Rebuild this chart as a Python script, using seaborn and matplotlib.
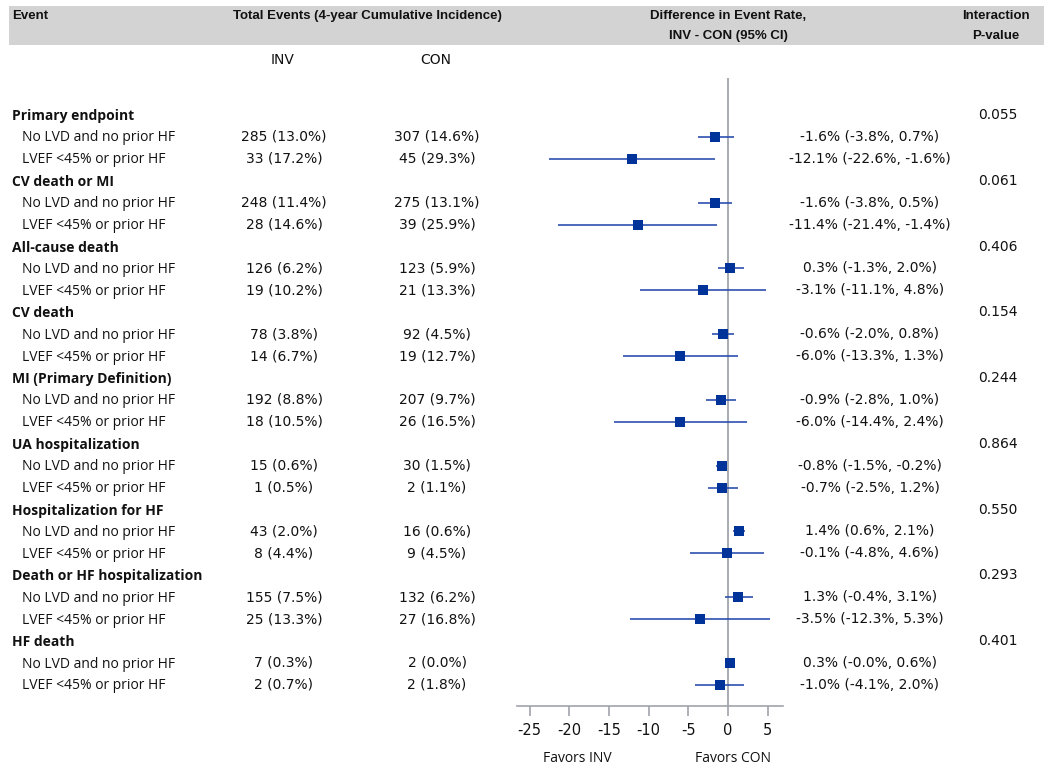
import matplotlib
matplotlib.use("Agg")
import matplotlib.pyplot as plt
import seaborn as sns
import pandas as pd
from matplotlib.patches import Rectangle

sns.set_theme(style="white")

# ---------------- data ----------------
groups = ["Primary endpoint", "CV death or MI", "All-cause death", "CV death",
          "MI (Primary Definition)", "UA hospitalization", "Hospitalization for HF",
          "Death or HF hospitalization", "HF death"]
subgroups = ["No LVD and no prior HF", "LVEF <45% or prior HF"]
p_values = ["0.055", "0.061", "0.406", "0.154", "0.244", "0.864", "0.550", "0.293", "0.401"]

inv_events = ["285 (13.0%)", "33 (17.2%)", "248 (11.4%)", "28 (14.6%)",
              "126 (6.2%)", "19 (10.2%)", "78 (3.8%)", "14 (6.7%)",
              "192 (8.8%)", "18 (10.5%)", "15 (0.6%)", "1 (0.5%)",
              "43 (2.0%)", "8 (4.4%)", "155 (7.5%)", "25 (13.3%)",
              "7 (0.3%)", "2 (0.7%)"]
con_events = ["307 (14.6%)", "45 (29.3%)", "275 (13.1%)", "39 (25.9%)",
              "123 (5.9%)", "21 (13.3%)", "92 (4.5%)", "19 (12.7%)",
              "207 (9.7%)", "26 (16.5%)", "30 (1.5%)", "2 (1.1%)",
              "16 (0.6%)", "9 (4.5%)", "132 (6.2%)", "27 (16.8%)",
              "2 (0.0%)", "2 (1.8%)"]
diff_est = [-1.6, -12.1, -1.6, -11.4, 0.3, -3.1, -0.6, -6.0, -0.9, -6.0,
            -0.8, -0.7, 1.4, -0.1, 1.3, -3.5, 0.3, -1.0]
diff_lo = [-3.8, -22.6, -3.8, -21.4, -1.3, -11.1, -2.0, -13.3, -2.8, -14.4,
           -1.5, -2.5, 0.6, -4.8, -0.4, -12.3, -0.0, -4.1]
diff_hi = [0.7, -1.6, 0.5, -1.4, 2.0, 4.8, 0.8, 1.3, 1.0, 2.4,
           -0.2, 1.2, 2.1, 4.6, 3.1, 5.3, 0.6, 2.0]
ci_labels = ["-1.6% (-3.8%, 0.7%)", "-12.1% (-22.6%, -1.6%)",
             "-1.6% (-3.8%, 0.5%)", "-11.4% (-21.4%, -1.4%)",
             "0.3% (-1.3%, 2.0%)", "-3.1% (-11.1%, 4.8%)",
             "-0.6% (-2.0%, 0.8%)", "-6.0% (-13.3%, 1.3%)",
             "-0.9% (-2.8%, 1.0%)", "-6.0% (-14.4%, 2.4%)",
             "-0.8% (-1.5%, -0.2%)", "-0.7% (-2.5%, 1.2%)",
             "1.4% (0.6%, 2.1%)", "-0.1% (-4.8%, 4.6%)",
             "1.3% (-0.4%, 3.1%)", "-3.5% (-12.3%, 5.3%)",
             "0.3% (-0.0%, 0.6%)", "-1.0% (-4.1%, 2.0%)"]
x_ticks = [-25, -20, -15, -10, -5, 0, 5]

# ---------------- layout helpers ----------------
W, H = 1050, 769
ROW0, ROWH = 115.0, 21.92
def ypx(i):
    return ROW0 + i * ROWH

label_font = ["Open Sans", "DejaVu Sans"]
num_font = ["DejaVu Sans"]
head_font = ["Liberation Sans"]
LFS = 10.0
NFS = 10.0
HFS = 9.5
LOFF = 1.0  # small baseline alignment offset for label font

rows = []
for g in range(len(groups)):
    for s in range(2):
        k = 2 * g + s
        rows.append({"row": 3 * g + 1 + s, "est": diff_est[k],
                     "lo": diff_lo[k], "hi": diff_hi[k]})
df = pd.DataFrame(rows)

fig = plt.figure(figsize=(W / 100, H / 100), dpi=100)
fig.patch.set_facecolor("white")

bg = fig.add_axes([0, 0, 1, 1])
bg.set_xlim(0, W)
bg.set_ylim(H, 0)
bg.axis("off")

# header band
bg.add_patch(Rectangle((9, 6), 1035, 39, facecolor="#d3d3d3", edgecolor="none"))
hk = dict(family=head_font, fontsize=HFS, fontweight="bold", color="#111111", va="center")
bg.text(12, 16, "Event", ha="left", **hk)
bg.text(233, 16, "Total Events (4-year Cumulative Incidence)", ha="left", **hk)
bg.text(728, 16, "Difference in Event Rate,", ha="center", **hk)
bg.text(728, 36, "INV - CON (95% CI)", ha="center", **hk)
bg.text(996, 16, "Interaction", ha="center", **hk)
bg.text(996, 36, "P-value", ha="center", **hk)

lk = dict(family=label_font, fontsize=LFS, color="#111111", va="center")
nk = dict(family=num_font, fontsize=NFS, color="#111111", va="center")
bg.text(283, 60, "INV", ha="center", **nk)
bg.text(436, 60, "CON", ha="center", **nk)

for g, name in enumerate(groups):
    y = ypx(3 * g)
    bg.text(12, y + LOFF, name, ha="left", fontweight="bold", **lk)
    bg.text(998, y, p_values[g], ha="center", **nk)
    for s in range(2):
        k = 2 * g + s
        yy = ypx(3 * g + 1 + s)
        bg.text(22, yy + LOFF, subgroups[s], ha="left", **lk)
        bg.text(284, yy, inv_events[k], ha="center", **nk)
        bg.text(437, yy, con_events[k], ha="center", **nk)
        bg.text(870, yy, ci_labels[k], ha="center", **nk)

# forest axes
ax_left, ax_right, ax_top, ax_bot = 517, 783, 78, 706
ax = fig.add_axes([ax_left / W, 1 - ax_bot / H, (ax_right - ax_left) / W, (ax_bot - ax_top) / H])
ax.set_facecolor("none")
x0_px = 728.0
ppu = 7.93
ax.set_xlim((ax_left - x0_px) / ppu, (ax_right - x0_px) / ppu)
ax.set_ylim((ax_bot - ROW0) / ROWH, (ax_top - ROW0) / ROWH)

ax.axvline(0, color="#a0a4ab", lw=1.3, zorder=1)
ax.hlines(df["row"], df["lo"], df["hi"], color="#2c4fb0", lw=1.2, zorder=2)
sns.scatterplot(data=df, x="est", y="row", marker="s", s=62, color="#003399",
                edgecolor="#003399", linewidth=0, ax=ax, zorder=3, legend=False)

for side in ["top", "left", "right"]:
    ax.spines[side].set_visible(False)
ax.spines["bottom"].set_color("#a0a4ab")
ax.spines["bottom"].set_linewidth(1.2)
ax.set_xticks(x_ticks)
ax.set_xticklabels([str(t) for t in x_ticks])
ax.tick_params(axis="x", direction="out", length=7, width=1.2, color="#a0a4ab",
               labelsize=10.5, labelcolor="#111111", pad=5, bottom=True)
for lab in ax.get_xticklabels():
    lab.set_family(num_font)
ax.set_yticks([])
ax.set_xlabel("")
ax.set_ylabel("")
ax.grid(False)

bg.text(577, 757 + LOFF, "Favors INV", ha="center", **lk)
bg.text(733, 757 + LOFF, "Favors CON", ha="center", **lk)

fig.savefig("out.png", dpi=100, facecolor="white")
